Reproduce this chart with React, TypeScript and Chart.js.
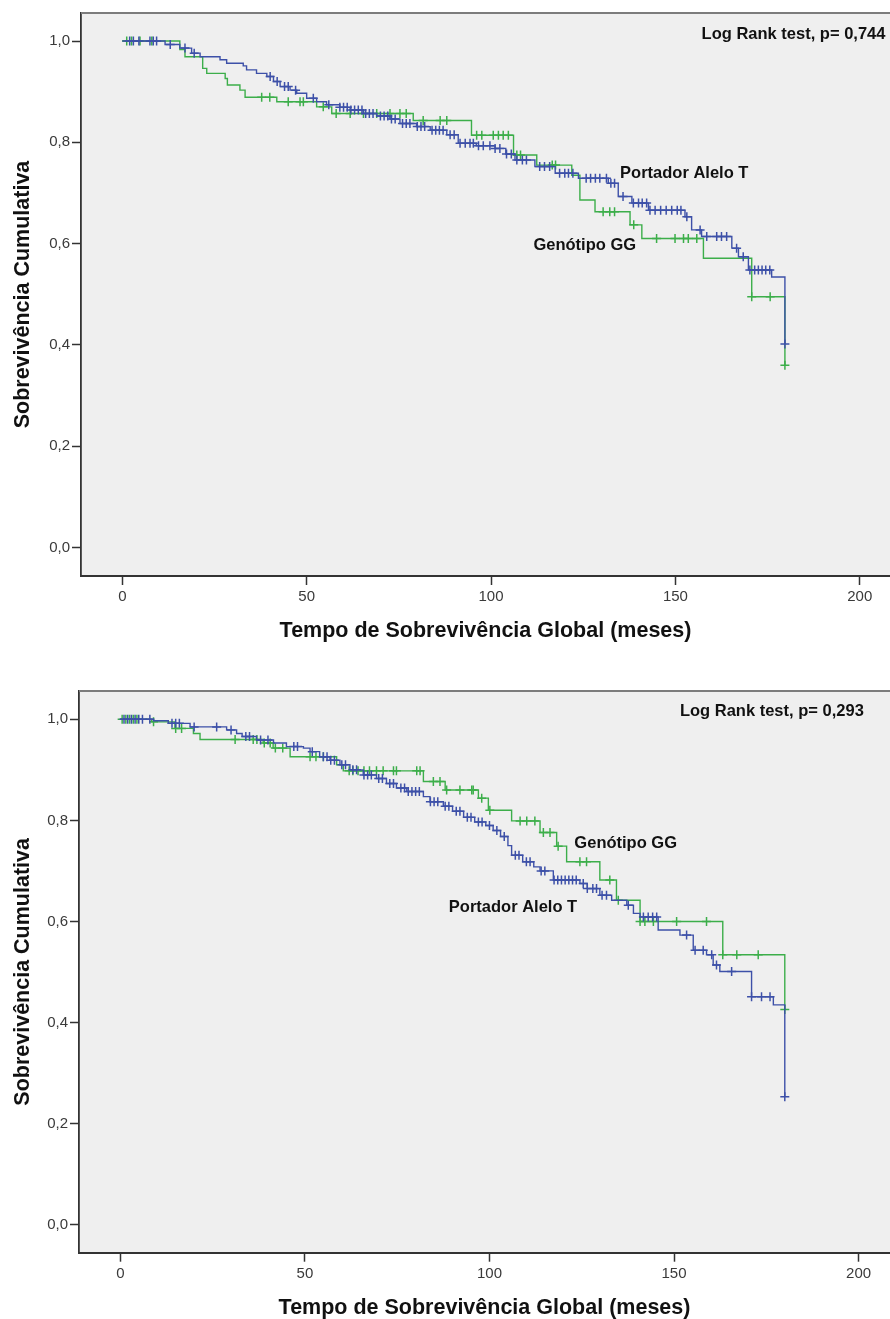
import React, { useEffect, useRef } from "react";
import { Chart, registerables } from "chart.js";

Chart.register(...registerables);

const FONT = "'Liberation Sans', Arial, Helvetica, sans-serif";
const BLUE = "#3d50a8";
const GREEN = "#3cae4a";

const groupNames = ["Portador Alelo T", "Genótipo GG"];
const xTickValues = [0, 50, 100, 150, 200];
const yTickValues = [0, 0.2, 0.4, 0.6, 0.8, 1.0];
const xAxisTitle = "Tempo de Sobrevivência Global (meses)";
const yAxisTitle = "Sobrevivência Cumulativa";

// Upper panel: event times (months) and survival level after each step
const upperAlleloTTimes = [0, 11.6, 15.6, 18.8, 21.1, 26.5, 28.3, 32.8, 33.7, 36.4, 39.2, 41.0, 42.8, 45.5, 47.3, 50.0, 52.7, 55.4, 59.0, 61.8, 65.4, 69.0, 72.6, 75.3, 79.8, 83.5, 88.0, 91.1, 96.0, 101.1, 104.0, 106.5, 111.9, 117.4, 123.7, 131.8, 134.5, 138.2, 142.7, 152.6, 154.4, 157.1, 165.3, 167.1, 169.8, 176.1, 179.7];
const upperAlleloTSurv = [1.0, 0.993, 0.986, 0.976, 0.969, 0.963, 0.956, 0.951, 0.943, 0.936, 0.930, 0.920, 0.910, 0.903, 0.897, 0.887, 0.880, 0.874, 0.869, 0.864, 0.857, 0.852, 0.846, 0.837, 0.831, 0.824, 0.815, 0.798, 0.793, 0.788, 0.777, 0.765, 0.752, 0.739, 0.729, 0.719, 0.693, 0.680, 0.666, 0.653, 0.627, 0.614, 0.591, 0.574, 0.548, 0.534, 0.402];
const upperAlleloTCensored = [2, 3, 4.5, 7.5, 8.4, 9.3, 13, 17, 19.5, 40.1, 42, 44, 45, 47, 51.8, 56, 59, 60, 61, 62, 63, 64, 65, 66, 67, 68, 70, 71, 72, 73, 74, 76, 77, 78, 80, 81, 82, 84, 85, 86, 87, 88.9, 90, 91.6, 93, 94.3, 95.2, 96.6, 97.9, 99.7, 101.1, 102.4, 104.2, 105.5, 107, 108.5, 109.6, 113.2, 114.5, 115.9, 118.6, 120, 121, 122.2, 125.8, 127, 128.3, 129.5, 131.3, 132.5, 133.5, 135.8, 138.6, 140, 141, 142.2, 143.1, 144.5, 146, 147.5, 149, 150.5, 151.5, 153.1, 156.7, 158.5, 161.2, 162.5, 163.9, 166.6, 168.4, 170.2, 171.5, 172.5, 173.5, 174.5, 175.6, 179.7];
const upperGGTimes = [0, 15.6, 17.0, 21.8, 22.9, 27.9, 28.5, 31.9, 33.3, 41.9, 52.7, 56.8, 78.9, 94.7, 106.1, 112.4, 121.9, 124.1, 128.2, 137.7, 140.9, 157.6, 170.7, 179.7];
const upperGGSurv = [1.0, 0.983, 0.969, 0.946, 0.936, 0.926, 0.913, 0.903, 0.889, 0.880, 0.870, 0.857, 0.843, 0.814, 0.775, 0.755, 0.735, 0.686, 0.663, 0.637, 0.610, 0.571, 0.495, 0.360];
const upperGGCensored = [1.2, 2.5, 4.8, 8, 37.8, 40, 45, 48.2, 49.1, 54.5, 58, 61.8, 65.4, 69, 72.6, 75.3, 77, 81.6, 86.2, 88, 96.1, 97.5, 100.6, 102, 103.3, 104.7, 107, 108, 116.6, 117.5, 130.4, 132.2, 133.5, 138.7, 144.9, 149.9, 152.2, 153.5, 155.8, 170.7, 175.7, 179.7];
const upperTestText = "Log Rank test, p= 0,744";

// Lower panel
const lowerAlleloTTimes = [0, 9, 13, 18.9, 28.8, 31.5, 33, 36.9, 41.5, 45, 49.6, 51.4, 54, 56.8, 59.5, 62.2, 65.8, 69.4, 72.1, 74.8, 77.6, 82.1, 83.9, 87.5, 90, 93, 96, 99, 101, 103, 105, 106, 109, 112, 113.7, 117.3, 124.5, 126.5, 129.9, 133.1, 137.2, 139.0, 140.8, 145.7, 151.6, 155.2, 158.8, 160.6, 162.4, 171.0, 176.9, 180.0];
const lowerAlleloTSurv = [1.0, 0.997, 0.992, 0.985, 0.979, 0.972, 0.966, 0.959, 0.953, 0.946, 0.943, 0.936, 0.926, 0.919, 0.910, 0.900, 0.890, 0.883, 0.873, 0.864, 0.857, 0.847, 0.837, 0.828, 0.818, 0.806, 0.797, 0.790, 0.780, 0.768, 0.750, 0.731, 0.718, 0.708, 0.700, 0.682, 0.675, 0.665, 0.652, 0.642, 0.632, 0.616, 0.609, 0.583, 0.573, 0.543, 0.534, 0.514, 0.501, 0.451, 0.435, 0.253];
const lowerAlleloTCensored = [1, 2, 3, 4, 5, 6, 8, 14, 15, 16, 20, 26.1, 30, 34, 35, 38, 40, 47, 48, 52, 55, 56, 57, 58, 60, 61, 63, 64, 66, 67, 68, 70, 71, 73, 74, 76, 77, 78, 79, 80, 81, 84, 85, 86, 88, 89, 91, 92, 94, 95, 97, 98, 100, 102, 104, 107, 108, 110, 111, 114, 115, 117.5, 118.5, 119.5, 120.5, 121.5, 122.5, 123.5, 125.4, 126.5, 128, 129, 130.5, 131.7, 137.6, 141.7, 143, 144.2, 145.3, 153.4, 155.7, 157.9, 160.2, 161.5, 165.6, 171, 173.7, 176, 180];
const lowerGGTimes = [0, 8.5, 14.8, 19.8, 21.6, 38.7, 41.4, 46.0, 58.6, 60.4, 82.1, 88.0, 97.0, 99.7, 106.0, 113.7, 118.2, 120.9, 129.9, 134.4, 140.8, 163.2, 180.0];
const lowerGGSurv = [1.0, 0.995, 0.982, 0.972, 0.960, 0.953, 0.943, 0.926, 0.910, 0.898, 0.877, 0.860, 0.844, 0.820, 0.799, 0.776, 0.749, 0.718, 0.682, 0.642, 0.600, 0.534, 0.426];
const lowerGGCensored = [0.5, 1.5, 2.5, 3.5, 4.5, 9, 15, 16.6, 31.1, 36, 37, 39, 40.6, 42, 44, 51.4, 53, 55, 62, 63, 64.4, 66, 67.5, 69.4, 71.2, 74, 74.8, 80.3, 81.2, 84.8, 86.6, 88.4, 92, 95.2, 95.6, 97.9, 100.1, 108.3, 110.1, 112.3, 114.6, 116.4, 118.6, 124.5, 126.3, 132.6, 134.9, 140.8, 142.1, 144.4, 150.7, 158.8, 163.2, 167, 172.8, 180];
const lowerTestText = "Log Rank test, p= 0,293";

type Pt = { x: number; y: number };

function stepPoints(times: number[], surv: number[]): Pt[] {
  return times.map((t, i) => ({ x: t, y: surv[i] }));
}

// Survival level of a step curve at time t (censored cases sit on the curve)
function levelAt(times: number[], surv: number[], t: number): number {
  let s = surv[0];
  for (let i = 0; i < times.length; i++) if (times[i] <= t + 1e-9) s = surv[i];
  return s;
}

function censorPoints(times: number[], surv: number[], cens: number[]): Pt[] {
  return cens.map((t) => ({ x: t, y: levelAt(times, surv, t) }));
}

type Note = { text: string; x: number; y: number };

type Panel = {
  height: number;
  axisWidth: number;
  xAxisHeight: number;
  xMin: number;
  xMax: number;
  yMin: number;
  yMax: number;
  tTimes: number[];
  tSurv: number[];
  tCens: number[];
  gTimes: number[];
  gSurv: number[];
  gCens: number[];
  notes: Note[];
  xTitlePad: number;
  yTitlePad: number;
};

const panelPlugin = {
  id: "kmPanel",
  beforeDraw(chart: any) {
    const { ctx, chartArea: a } = chart;
    ctx.save();
    ctx.fillStyle = "#efefef";
    ctx.fillRect(a.left, a.top, a.right - a.left, a.bottom - a.top);
    ctx.restore();
  },
  afterDraw(chart: any, _args: any, opts: any) {
    const { ctx, chartArea: a, scales } = chart;
    ctx.save();
    ctx.strokeStyle = "#7c7c7c";
    ctx.lineWidth = 2.2;
    ctx.beginPath();
    ctx.moveTo(a.left, a.top);
    ctx.lineTo(a.right, a.top);
    ctx.stroke();
    ctx.fillStyle = "#111";
    ctx.font = `bold 16.5px ${FONT}`;
    ctx.textAlign = "left";
    ctx.textBaseline = "middle";
    (opts.notes || []).forEach((n: Note) => {
      ctx.fillText(n.text, scales.x.getPixelForValue(n.x), scales.y.getPixelForValue(n.y));
    });
    ctx.restore();
  },
};

function buildConfig(p: Panel): any {
  const axisColor = "#333";
  const tickFont = { family: FONT, size: 15 };
  const titleFont = { family: FONT, size: 21.5, weight: "bold" as const, lineHeight: 1 };
  const censorStyle = {
    type: "scatter",
    showLine: false,
    pointStyle: "cross",
    pointRadius: 4.5,
    borderWidth: 1.5,
  };
  return {
    type: "line",
    data: {
      datasets: [
        {
          label: groupNames[0],
          data: stepPoints(p.tTimes, p.tSurv),
          stepped: "before",
          borderColor: BLUE,
          borderWidth: 1.4,
          pointRadius: 0,
          fill: false,
          order: 0,
        },
        {
          ...censorStyle,
          label: groupNames[0] + " (censurado)",
          data: censorPoints(p.tTimes, p.tSurv, p.tCens),
          borderColor: BLUE,
          order: 0,
        },
        {
          label: groupNames[1],
          data: stepPoints(p.gTimes, p.gSurv),
          stepped: "before",
          borderColor: GREEN,
          borderWidth: 1.4,
          pointRadius: 0,
          fill: false,
          order: 1,
        },
        {
          ...censorStyle,
          label: groupNames[1] + " (censurado)",
          data: censorPoints(p.gTimes, p.gSurv, p.gCens),
          borderColor: GREEN,
          order: 1,
        },
      ],
    },
    options: {
      animation: false,
      responsive: false,
      devicePixelRatio: 1,
      events: [],
      layout: { autoPadding: false, padding: { top: 13, left: 0, right: 0, bottom: 0 } },
      plugins: {
        legend: { display: false },
        tooltip: { enabled: false },
        kmPanel: { notes: p.notes },
      },
      scales: {
        x: {
          type: "linear",
          min: p.xMin,
          max: p.xMax,
          afterBuildTicks: (s: any) => {
            s.ticks = xTickValues.map((v) => ({ value: v }));
          },
          afterFit: (s: any) => {
            s.height = p.xAxisHeight;
          },
          grid: {
            display: true,
            drawOnChartArea: false,
            drawTicks: true,
            tickLength: 9,
            tickWidth: 1.5,
            tickColor: axisColor,
          },
          border: { display: true, color: axisColor, width: 2 },
          ticks: {
            autoSkip: false,
            maxRotation: 0,
            padding: 3,
            color: "#3a3a3a",
            font: tickFont,
            callback: (v: number) => String(v),
          },
          title: {
            display: true,
            text: xAxisTitle,
            color: "#111",
            font: titleFont,
            padding: { top: 0, bottom: p.xTitlePad },
          },
        },
        y: {
          type: "linear",
          min: p.yMin,
          max: p.yMax,
          afterBuildTicks: (s: any) => {
            s.ticks = yTickValues.map((v) => ({ value: v }));
          },
          afterFit: (s: any) => {
            s.width = p.axisWidth;
          },
          grid: {
            display: true,
            drawOnChartArea: false,
            drawTicks: true,
            tickLength: 9,
            tickWidth: 1.5,
            tickColor: axisColor,
          },
          border: { display: true, color: axisColor, width: 1.8 },
          ticks: {
            autoSkip: false,
            padding: 2,
            color: "#3a3a3a",
            font: tickFont,
            callback: (v: number) => v.toFixed(1).replace(".", ","),
          },
          title: {
            display: true,
            text: yAxisTitle,
            color: "#111",
            font: titleFont,
            padding: { top: p.yTitlePad, bottom: 0 },
          },
        },
      },
    },
    plugins: [panelPlugin],
  };
}

function KMChart({ panel }: { panel: Panel }) {
  const ref = useRef<HTMLCanvasElement | null>(null);
  useEffect(() => {
    if (!ref.current) return;
    const chart = new Chart(ref.current, buildConfig(panel));
    return () => chart.destroy();
  }, [panel]);
  return (
    <canvas
      ref={ref}
      width={890}
      height={panel.height}
      style={{ display: "block", width: 890, height: panel.height }}
    />
  );
}

const upperPanel: Panel = {
  height: 678,
  axisWidth: 81,
  xAxisHeight: 102,
  xMin: -11.2,
  xMax: 208.2,
  yMin: -0.0563,
  yMax: 1.0553,
  tTimes: upperAlleloTTimes,
  tSurv: upperAlleloTSurv,
  tCens: upperAlleloTCensored,
  gTimes: upperGGTimes,
  gSurv: upperGGSurv,
  gCens: upperGGCensored,
  notes: [
    { text: upperTestText, x: 157.1, y: 1.0132 },
    { text: groupNames[0], x: 135.0, y: 0.7388 },
    { text: groupNames[1], x: 111.5, y: 0.5966 },
  ],
  xTitlePad: 36.5,
  yTitlePad: 12.5,
};

const lowerPanel: Panel = {
  height: 641,
  axisWidth: 79,
  xAxisHeight: 66.3,
  xMin: -11.19,
  xMax: 208.5,
  yMin: -0.0554,
  yMax: 1.056,
  tTimes: lowerAlleloTTimes,
  tSurv: lowerAlleloTSurv,
  tCens: lowerAlleloTCensored,
  gTimes: lowerGGTimes,
  gSurv: lowerGGSurv,
  gCens: lowerGGCensored,
  notes: [
    { text: lowerTestText, x: 151.6, y: 1.0164 },
    { text: groupNames[1], x: 123.0, y: 0.7547 },
    { text: groupNames[0], x: 89.0, y: 0.628 },
  ],
  xTitlePad: 0.5,
  yTitlePad: 12,
};

export default function App() {
  return (
    <div style={{ position: "absolute", left: 0, top: 0, width: 890, height: 1319, background: "#fff", overflow: "hidden" }}>
      <KMChart panel={upperPanel} />
      <KMChart panel={lowerPanel} />
    </div>
  );
}
